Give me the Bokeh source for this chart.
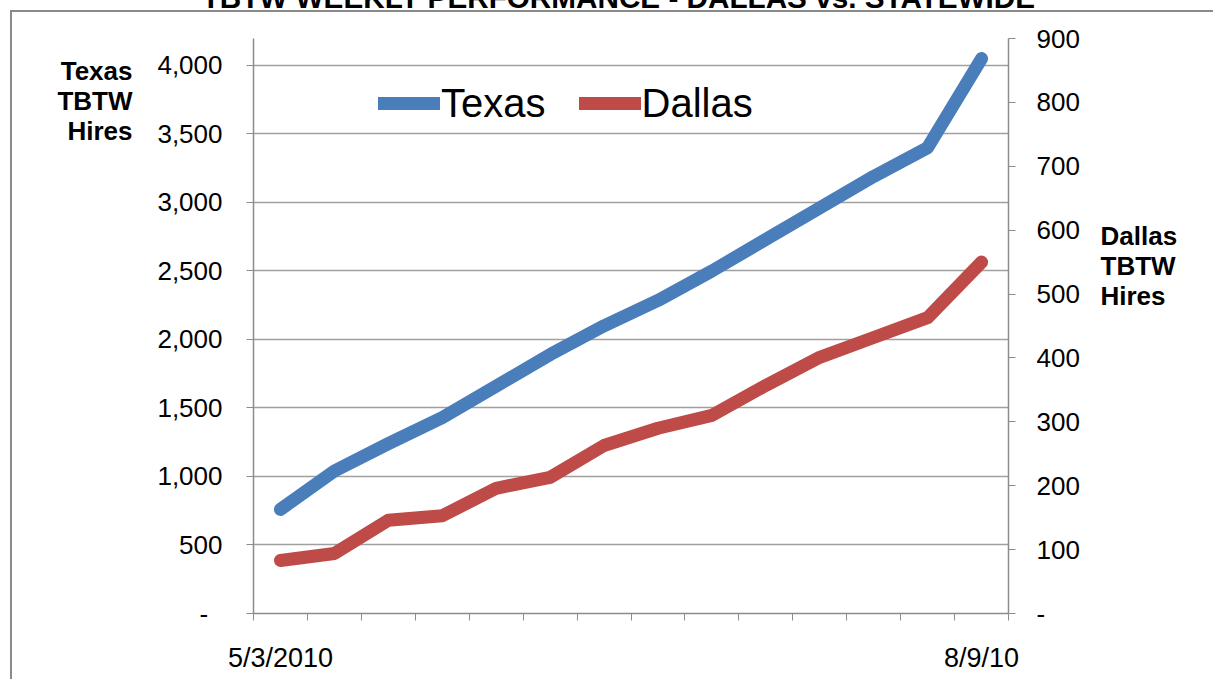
from bokeh.plotting import figure
from bokeh.models import (Range1d, LinearAxis, FixedTicker, NumeralTickFormatter,
                          Legend, LegendItem)
from bokeh.embed import file_html
from bokeh.resources import INLINE

# ---- data ----
title_text = "TBTW WEEKLY PERFORMANCE - DALLAS vs. STATEWIDE"
week_index = list(range(14))
first_label = "5/3/2010"
last_label = "8/9/10"
texas = [760, 1040, 1240, 1430, 1660, 1890, 2100, 2285, 2500, 2730, 2960, 3190, 3400, 4050]
dallas = [83, 94, 146, 153, 196, 213, 263, 290, 310, 357, 401, 432, 463, 550]
left_ticks = [0, 500, 1000, 1500, 2000, 2500, 3000, 3500, 4000]
right_ticks = [0, 100, 200, 300, 400, 500, 600, 700, 800, 900]
left_title = ["Texas", "TBTW", "Hires"]
right_title = ["Dallas", "TBTW", "Hires"]

BLUE = "#4A7EBB"
RED = "#BE4B48"
GRID = "#A0A0A0"
AXIS = "#8C8C8C"
FONT = "Liberation Sans"
NB = "\u00a0"

LEFT_MAX = 4197
RIGHT_MAX = 900
K = 30  # part of the canvas pushed above the page top (title is cut there, as in the reference)
border_css = (f"linear-gradient(#8a8a8a,#8a8a8a) 10px {10 + K}px / 2px 100% no-repeat, "
              f"linear-gradient(#8a8a8a,#8a8a8a) 10px {10 + K}px / 100% 2px no-repeat, white")
p = figure(width=1213, height=679 + K, output_backend="svg", toolbar_location=None,
           x_range=Range1d(-0.5, 13.5), y_range=Range1d(0, LEFT_MAX),
           min_border_left=253, min_border_right=205, min_border_top=38 + K, min_border_bottom=66,
           background_fill_color="white", border_fill_color=None,
           styles={"background": border_css, "margin-top": f"-{K}px"})
p.title_location = None
p.outline_line_color = None
p.extra_y_ranges = {"right": Range1d(0, RIGHT_MAX)}

# x axis
xa = p.xaxis[0]
xa.ticker = FixedTicker(ticks=[week_index[0], week_index[-1]],
                        minor_ticks=[i - 0.5 for i in range(len(week_index) + 1)])
xa.major_label_overrides = {week_index[0]: first_label, week_index[-1]: last_label}
xa.major_tick_line_color = None
xa.major_tick_out = 0
xa.minor_tick_line_color = AXIS
xa.minor_tick_out = 7
xa.minor_tick_in = 0
xa.axis_line_color = AXIS
xa.axis_line_width = 1.5
xa.major_label_text_font = FONT
xa.major_label_text_font_size = "27px"
xa.major_label_text_color = "black"
xa.major_label_standoff = 22

# left axis
ya = p.yaxis[0]
ya.ticker = FixedTicker(ticks=left_ticks, minor_ticks=[])
ya.formatter = NumeralTickFormatter(format="0,0")
ya.major_label_overrides = {0: "-" + NB * 2}
ya.axis_line_color = AXIS
ya.axis_line_width = 1.5
ya.major_tick_line_color = AXIS
ya.major_tick_out = 7
ya.major_tick_in = 0
ya.minor_tick_line_color = None
ya.major_label_text_font = FONT
ya.major_label_text_font_size = "26px"
ya.major_label_text_color = "black"
ya.major_label_standoff = 24

# right axis
ra = LinearAxis(y_range_name="right")
ra.ticker = FixedTicker(ticks=right_ticks, minor_ticks=[])
ra.major_label_overrides = {0: "-"}
ra.axis_line_color = AXIS
ra.axis_line_width = 1.5
ra.major_tick_line_color = AXIS
ra.major_tick_out = 7
ra.major_tick_in = 0
ra.minor_tick_line_color = None
ra.major_label_text_font = FONT
ra.major_label_text_font_size = "26px"
ra.major_label_text_color = "black"
ra.major_label_standoff = 21
p.add_layout(ra, "right")

# label-only axes carry the axis titles and the chart title
def label_axis(label, range_name, standoff, size, orientation="horizontal", **kw):
    ax = LinearAxis(ticker=FixedTicker(ticks=[], minor_ticks=[]), **kw)
    if range_name is not None:
        ax.y_range_name = range_name
    ax.axis_label = label
    ax.axis_label_orientation = orientation
    ax.axis_label_text_align = "center"
    ax.axis_label_text_font = FONT
    ax.axis_label_text_font_style = "bold"
    ax.axis_label_text_font_size = size
    ax.axis_label_text_line_height = 1.0
    ax.axis_label_text_color = "black"
    ax.axis_label_standoff = standoff
    ax.axis_line_color = None
    ax.major_tick_line_color = None
    ax.minor_tick_line_color = None
    ax.major_tick_out = 0
    ax.minor_tick_out = 0
    ax.major_label_text_font_size = "0px"
    return ax

# padding lines (non-breaking spaces) lift the centred label block toward the top
left_label = "\n".join(left_title + [NB] * 15)
right_label = "\n".join(right_title + [NB] * 4)
p.add_layout(label_axis(left_label, "default", 22, "26px"), "left")
p.add_layout(label_axis(right_label, "right", 18, "26px"), "right")
top_axis = label_axis(title_text + NB * 3, None, 25, "29.7px", orientation="parallel")
p.add_layout(top_axis, "above")

# grid
p.xgrid.grid_line_color = None
p.ygrid.ticker = FixedTicker(ticks=left_ticks[1:])
p.ygrid.grid_line_color = GRID
p.ygrid.grid_line_width = 1.5

# lines
r_tx = p.line(week_index, texas, line_color=BLUE, line_width=13,
              line_cap="round", line_join="round")
r_da = p.line(week_index, dallas, line_color=RED, line_width=13,
              line_cap="round", line_join="round", y_range_name="right")

legend = Legend(items=[LegendItem(label="Texas", renderers=[r_tx]),
                       LegendItem(label="Dallas", renderers=[r_da])],
                orientation="horizontal", location=(125, 487),
                glyph_width=62, glyph_height=46, label_height=46,
                label_standoff=1, spacing=33, padding=0, margin=0,
                border_line_color=None, background_fill_alpha=0,
                label_text_font=FONT, label_text_font_size="40px",
                label_text_color="black")
p.add_layout(legend, "center")

open("out.html", "w").write(file_html(p, INLINE))
